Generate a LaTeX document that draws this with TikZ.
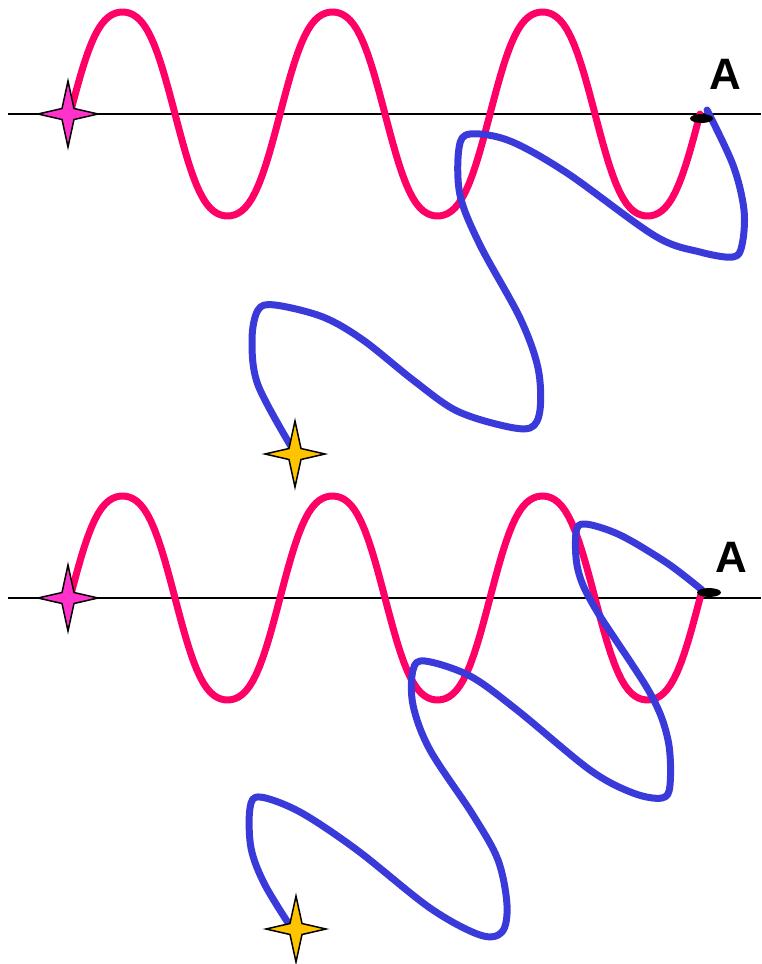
\documentclass[tikz,border=0pt]{standalone}
\usepackage{fontspec}
\setmainfont{Liberation Sans}
\definecolor{wavepink}{RGB}{255,0,102}
\definecolor{pathblue}{RGB}{58,58,218}
\definecolor{starpink}{RGB}{255,51,204}
\definecolor{stargold}{RGB}{255,195,0}
\tikzset{
  axisline/.style={line width=2pt, black},
  wave/.style={line width=7pt, wavepink, line cap=round, line join=round},
  walk/.style={line width=7pt, pathblue, line cap=round, line join=round},
  alabel/.style={inner sep=0pt, font=\bfseries\fontsize{44}{44}\selectfont},
  pics/spark/.style={code={
    \filldraw[fill=#1, draw=black, line width=1.5pt, line join=miter]
      (-30,0) -- (-6,-5.5) -- (0,-33) -- (6,-5.5) -- (30,0) -- (6,5.5)
      -- (0,33) -- (-6,5.5) -- cycle;
  }}
}
\begin{document}
\begin{tikzpicture}[x=1pt,y=-1pt,
  declare function={wv(\t)=sin(\t)*(1.25-0.25*sin(\t)*sin(\t));}]
\useasboundingbox (0,0) rectangle (761,964);

% ---------- top panel ----------
\draw[axisline] (8,114) -- (761,114);
\draw[wave] plot[domain=70:700, samples=181]
  (\x, {114 - 102*wv((\x-70)/210*360)});
\draw[walk] plot[smooth, tension=0.55] coordinates {
  (707,110) (733,165) (744,210) (742,245) (733,257) (700,252) (655,236)
  (567,173) (510,141) (470,134) (459,148) (460,195) (480,245) (520,318)
  (538,368) (540,410) (530,428) (500,425) (455,410) (413,380) (363,340)
  (323,317) (275,305) (258,310) (252,340) (258,385) (292,448)};
\fill (701.5,118.5) ellipse [x radius=11.5, y radius=4.5];
\node[alabel] (atop) at (725,74) {A};
\pic at (68,114) {spark=starpink};
\pic at (295,454) {spark=stargold};

% ---------- bottom panel ----------
\draw[axisline] (8,598) -- (761,598);
\draw[wave] plot[domain=70:702, samples=181]
  (\x, {598 - 102*wv((\x-70)/210*360)});
\draw[walk] plot[smooth, tension=0.55] coordinates {
  (702,590) (667,563) (620,535) (585,524) (576,533) (578,570) (595,608)
  (650,693) (668,740) (670,785) (662,798) (633,793) (590,770) (517,710)
  (470,676) (425,661) (413,670) (413,705) (430,750) (473,815) (498,860)
  (507,905) (502,932) (480,935) (430,908) (357,850) (300,812) (260,797)
  (250,808) (251,848) (265,885) (294,932)};
\fill (709,592.5) ellipse [x radius=12, y radius=4.5];
\node[alabel] (abot) at (731,557) {A};
\pic at (68,598) {spark=starpink};
\pic at (296,929) {spark=stargold};
\end{tikzpicture}
\end{document}
